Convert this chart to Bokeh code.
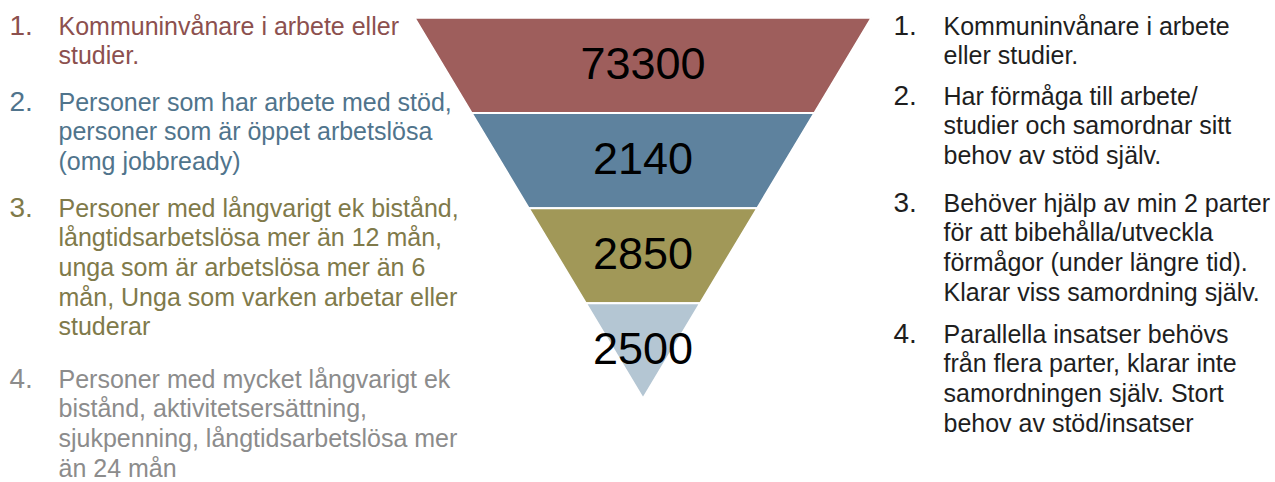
from bokeh.plotting import figure
from bokeh.models import Range1d
from bokeh.core.properties import value
from bokeh.embed import file_html
from bokeh.resources import INLINE

# ---- data ----
level_numbers = ["1.", "2.", "3.", "4."]
level_values = [73300, 2140, 2850, 2500]
band_colors = ["#9E5E5C", "#5E829E", "#A19858", "#B4C6D3"]
left_text_colors = ["#8C504E", "#50748C", "#807A4A", "#8C8C8C"]
right_text_color = "#1E1E1E"

left_lines = [
    ["Kommuninvånare i arbete eller", "studier."],
    ["Personer som har arbete med stöd,", "personer som är öppet arbetslösa", "(omg jobbready)"],
    ["Personer med långvarigt ek bistånd,", "långtidsarbetslösa mer än 12 mån,",
     "unga som är arbetslösa mer än 6", "mån, Unga som varken arbetar eller", "studerar"],
    ["Personer med mycket långvarigt ek", "bistånd, aktivitetsersättning,",
     "sjukpenning, långtidsarbetslösa mer", "än 24 mån"],
]
right_lines = [
    ["Kommuninvånare i arbete", "eller studier."],
    ["Har förmåga till arbete/", "studier och samordnar sitt", "behov av stöd själv."],
    ["Behöver hjälp av min 2 parter", "för att bibehålla/utveckla",
     "förmågor (under längre tid).", "Klarar viss samordning själv."],
    ["Parallella insatser behövs", "från flera parter, klarar inte",
     "samordningen själv. Stort", "behov av stöd/insatser"],
]

# ---- layout (page-pixel coordinates) ----
W, H = 1275, 482
funnel_left, funnel_right, funnel_top, funnel_apex = 414.0, 871.0, 17.3, 398.0
left_num_x, left_text_x = 9, 58
right_num_x, right_text_x = 893, 943
left_first_baselines = [25, 101, 207, 378]
right_first_baselines = [25, 95, 202, 333]
line_step = 29.7
FONT = value("Liberation Sans")

p = figure(width=W, height=H, output_backend="svg", toolbar_location=None,
           x_range=Range1d(0, W), y_range=Range1d(H, 0),
           min_border=0, outline_line_color=None, background_fill_color="white",
           border_fill_color="white")
p.axis.visible = False
p.grid.visible = False

# funnel bands
n = len(level_values)
cx = (funnel_left + funnel_right) / 2
half = (funnel_right - funnel_left) / 2
band_h = (funnel_apex - funnel_top) / n

def half_width(y):
    return half * (funnel_apex - y) / (funnel_apex - funnel_top)

xs, ys, centers = [], [], []
for i in range(n):
    y0 = funnel_top + i * band_h
    y1 = y0 + band_h
    w0, w1 = half_width(y0), half_width(y1)
    xs.append([cx - w0, cx + w0, cx + w1, cx - w1])
    ys.append([y0, y0, y1, y1])
    centers.append((y0 + y1) / 2)

p.patches(xs=xs, ys=ys, fill_color=band_colors, line_color="white", line_width=2)

p.text(x=[cx] * n, y=centers, text=[str(v) for v in level_values],
       text_font=FONT, text_font_size=value("45px"), text_color="black",
       text_align="center", text_baseline="middle", y_offset=-2)

# side texts
def add_column(lines_list, first_baselines, num_x, text_x, colors):
    tx, ty, tt, tc = [], [], [], []
    for i, lines in enumerate(lines_list):
        for j, line in enumerate(lines):
            tx.append(text_x)
            ty.append(first_baselines[i] + j * line_step)
            tt.append(line)
            tc.append(colors[i])
    p.text(x=tx, y=ty, text=tt, text_color=tc, text_font=FONT,
           text_font_size=value("25px"), text_baseline="alphabetic", text_align="left")
    p.text(x=[num_x] * len(lines_list), y=first_baselines, text=level_numbers,
           text_color=colors, text_font=FONT, text_font_size=value("28px"),
           text_baseline="alphabetic", text_align="left")

add_column(left_lines, left_first_baselines, left_num_x, left_text_x, left_text_colors)
add_column(right_lines, right_first_baselines, right_num_x, right_text_x,
           [right_text_color] * n)

open("out.html", "w").write(file_html(p, INLINE))
